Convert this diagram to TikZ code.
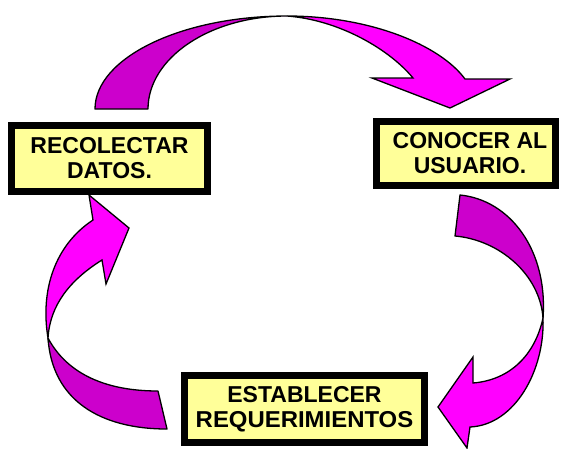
\documentclass[tikz,border=0pt]{standalone}
\usepackage{fontspec}
\setmainfont{Liberation Sans}
\usepackage{graphicx}
\definecolor{darkmag}{HTML}{CC00CC}
\definecolor{brightmag}{HTML}{FF00FF}
\definecolor{boxyellow}{HTML}{FFFF99}
\begin{document}
\begin{tikzpicture}[x=1pt,y=-1pt,
  dark/.style={fill=darkmag,draw=black,line width=1.3pt,line join=round},
  bright/.style={fill=brightmag,draw=black,line width=1.3pt,line join=miter},
  stage/.style={draw=black,fill=boxyellow,line width=7pt,inner sep=0pt,align=center,
    font=\fontsize{23}{25}\selectfont\bfseries}]
\useasboundingbox[fill=white] (0,0) rectangle (561,448);

% top arrow
\draw[dark] (95,109) .. controls (95,58) and (181,16) .. (287,16)
  .. controls (210,16) and (148,58) .. (148,109) -- cycle;
\draw[bright] (287,16) .. controls (370,16) and (440,45) .. (465,79)
  -- (510,79) -- (450,108) -- (372,78) -- (413,78)
  .. controls (390,50) and (340,20) .. (287,16) -- cycle;

% left arrow
\draw[dark] (48,338) .. controls (52,400) and (100,429) .. (167,429)
  -- (158,391) .. controls (100,391) and (65,370) .. (48,338) -- cycle;
\draw[bright] (48,338) .. controls (40,290) and (55,245) .. (93,220)
  -- (89,195) -- (129,228) -- (106,284) -- (102,260)
  .. controls (70,280) and (50,305) .. (48,338) -- cycle;

% right arrow
\draw[dark] (460,195) .. controls (510,200) and (548,250) .. (543,318)
  .. controls (540,275) and (500,240) .. (455,236) -- cycle;
\draw[bright] (543,318) .. controls (545,370) and (515,425) .. (470,427)
  -- (467,448) -- (438,407) -- (473,357) -- (473,383)
  .. controls (510,380) and (535,355) .. (543,318) -- cycle;

% boxes
\node[stage,minimum width=196pt,minimum height=66pt] (rec) at (109.5,158.5) {RECOLECTAR\\DATOS.};
\node[stage,minimum width=179pt,minimum height=64pt] (con) at (466,153.5) {\hspace*{8pt}CONOCER AL\\\hspace*{8pt}USUARIO.};
\node[stage,minimum width=240pt,minimum height=67pt] (est) at (304.5,409) {ESTABLECER\\\scalebox{1.04}[1]{REQUERIMIENTOS}};
\end{tikzpicture}
\end{document}
